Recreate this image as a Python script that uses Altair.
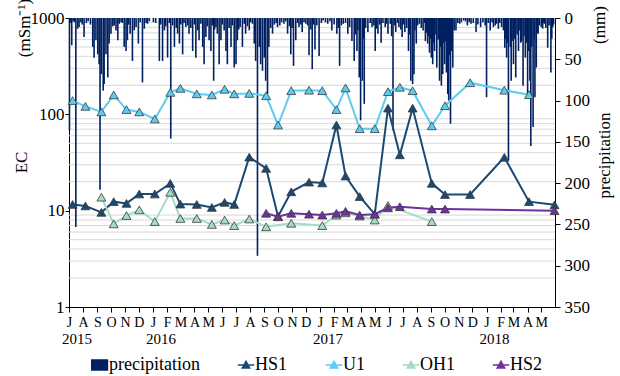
import altair as alt
import pandas as pd

FONT = "Liberation Serif"

# Sampling campaign dates and electrical conductivity readings (mS/m)
sample_dates = [
    "2015-07-09", "2015-08-06", "2015-09-10", "2015-10-07", "2015-11-04", "2015-12-02",
    "2016-01-05", "2016-02-08", "2016-03-01", "2016-04-06", "2016-05-09", "2016-06-06",
    "2016-06-27", "2016-07-30", "2016-09-05", "2016-10-01", "2016-10-30", "2016-12-08",
    "2017-01-06", "2017-02-06", "2017-02-26", "2017-03-29", "2017-05-01", "2017-05-30",
    "2017-06-25", "2017-07-23", "2017-09-03", "2017-10-02", "2017-11-26", "2018-02-09",
    "2018-04-04", "2018-05-30",
]
hs1 = [11.6, 11.2, 9.6, 12.4, 11.9, 14.9, 14.9, 19.2, 11.7, 11.6, 10.8, 12.2,
       11.6, 36, 27.5, 8.7, 15.7, 19.8, 19.4, 77.5, 22.9, 14.0, 9.2, 116,
       38, 116, 19.2, 14.7, 14.7, 35.8, 12.4, 11.5]
u1 = [139, 121, 106, 159, 112, 106, 89.5, 169, 186, 163, 159, 182,
      163, 165, 156, 77.5, 176, 178, 176, 112, 188, 71, 71, 172,
      191, 176, 76, 123, 213, 178, 160, None]
oh1 = [None, None, 13.8, 7.3, 8.9, 10.2, 7.7, 15.5, 8.3, 8.3, 7.2, 8.0,
       7.0, 8.2, 6.8, None, 7.4, None, 7.0, 9.0, 9.5, 8.8, 8.0, 11.3,
       None, None, 7.7, None, None, None, None, None]
hs2 = [None, None, None, None, None, None, None, None, None, None, None, None,
       None, None, 9.4, 8.65, 9.4, 9.2, 9.0, 9.4, 9.85, 9.0, 9.2, 10.7,
       11.0, None, 10.4, 10.4, None, None, None, 10.0]

series_names = ["HS1", "U1", "OH1", "HS2"]
series_colors = ["#1a4a74", "#5ccdf2", "#a3dcc7", "#7030a0"]

# Daily precipitation as (day counted from 2015-07-01, mm), rain days only
precip_obs = [
    (1, 136), (3, 6), (6, 33), (9, 4), (12, 5), (15, 253), (19, 13), (22, 11), (26, 5),
    (29, 8), (33, 23), (38, 6), (42, 4), (47, 8), (52, 35), (55, 48), (59, 27), (63, 44),
    (66, 56), (68, 208), (71, 68), (75, 88), (77, 80), (81, 44), (85, 72), (88, 31),
    (92, 19), (96, 10), (99, 9), (103, 15), (107, 27), (110, 7), (114, 5), (117, 6),
    (121, 35), (125, 40), (128, 27), (131, 8), (134, 19), (139, 52), (143, 15), (147, 11),
    (152, 31), (156, 5), (161, 78), (165, 13), (169, 6), (172, 7), (176, 4), (185, 5),
    (190, 6), (198, 52), (201, 8), (205, 52), (209, 15), (212, 10), (216, 48), (220, 6),
    (223, 146), (227, 9), (231, 35), (235, 12), (238, 19), (242, 31), (245, 8), (249, 44),
    (252, 6), (256, 11), (260, 9), (263, 19), (267, 12), (271, 40), (275, 8), (278, 48),
    (282, 15), (285, 27), (289, 7), (293, 35), (296, 56), (300, 23), (303, 10), (307, 27),
    (311, 40), (314, 9), (317, 76), (319, 14), (322, 11), (325, 19), (329, 56), (333, 27),
    (336, 8), (340, 15), (344, 40), (347, 56), (351, 12), (355, 35), (358, 9), (362, 60),
    (366, 56), (369, 27), (372, 14), (375, 11), (380, 35), (384, 7), (387, 19), (391, 10),
    (395, 15), (398, 5), (402, 7), (406, 31), (409, 52), (413, 288), (417, 35), (420, 56),
    (424, 64), (428, 48), (431, 76), (435, 92), (438, 35), (442, 12), (446, 19), (450, 8),
    (454, 6), (457, 11), (462, 9), (466, 5), (471, 7), (475, 4), (479, 19), (483, 10),
    (486, 44), (489, 12), (492, 58), (497, 27), (501, 6), (504, 11), (508, 8), (511, 17),
    (515, 5), (519, 7), (523, 9), (526, 45), (530, 14), (533, 62), (536, 8),
    (539, 38), (543, 9), (548, 46), (553, 6), (557, 3), (562, 5), (567, 7), (572, 4),
    (576, 15), (581, 8), (587, 19), (590, 12), (593, 58), (597, 9), (601, 7), (606, 6),
    (611, 19), (615, 11), (620, 28), (625, 52), (628, 20), (631, 40), (633, 15), (636, 72),
    (639, 124), (643, 76), (645, 25), (647, 104), (650, 12), (655, 17), (660, 6), (664, 11),
    (668, 9), (671, 40), (674, 13), (677, 19), (681, 8), (684, 30), (688, 6), (693, 11),
    (696, 7), (699, 19), (704, 7), (707, 22), (710, 136), (713, 9), (716, 17), (720, 6),
    (723, 11), (727, 14), (730, 23), (733, 8), (736, 17), (740, 12), (744, 40), (746, 20),
    (749, 76), (753, 80), (756, 68), (758, 15), (761, 31), (764, 9), (768, 7), (772, 12),
    (776, 15), (779, 6), (781, 28), (784, 18), (786, 31), (788, 22), (790, 42), (792, 25),
    (794, 48), (797, 56), (799, 30), (801, 40), (804, 20), (806, 60), (809, 26), (812, 76),
    (814, 35), (816, 82), (819, 68), (821, 30), (823, 56), (825, 28), (827, 66), (830, 92),
    (832, 100), (834, 45), (836, 128), (838, 40), (841, 60), (844, 15), (848, 15), (852, 6),
    (856, 7), (860, 5), (865, 3), (869, 4), (873, 9), (877, 5), (881, 7), (886, 6),
    (892, 17), (896, 8), (902, 11), (907, 5), (912, 9), (915, 96), (919, 6), (923, 15),
    (927, 5), (930, 11), (934, 9), (937, 7), (941, 13), (944, 6), (948, 11), (952, 15),
    (955, 36), (957, 25), (959, 48), (961, 30), (963, 172), (967, 35), (969, 76), (971, 28),
    (974, 56), (977, 25), (979, 72), (982, 20), (985, 40), (988, 15), (990, 30), (992, 28),
    (995, 82), (997, 22), (1000, 48), (1003, 30), (1005, 92), (1007, 40), (1010, 76),
    (1012, 155), (1014, 35), (1017, 132), (1019, 25), (1021, 96), (1024, 60), (1026, 18),
    (1028, 19), (1031, 9), (1035, 11), (1038, 13), (1040, 6), (1042, 7), (1045, 12),
    (1049, 36), (1052, 9), (1056, 66), (1058, 25), (1060, 11), (1062, 8),
]

minor_ec = [2, 3, 4, 5, 6, 7, 8, 9, 20, 30, 40, 50, 60, 70, 80, 90,
            200, 300, 400, 500, 600, 700, 800, 900]
major_ec = [1, 10, 100, 1000]
precip_ticks = [0, 50, 100, 150, 200, 250, 300, 350]
year_labels = ["2015", "2016", "2017", "2018"]
year_dates = ["2015-07-01", "2016-01-01", "2017-01-01", "2018-01-01"]

# ---- tables ----
ec = (pd.DataFrame({"date": sample_dates, "HS1": hs1, "U1": u1, "OH1": oh1, "HS2": hs2})
      .melt(id_vars="date", var_name="series", value_name="ec").dropna())
rain = pd.DataFrame(precip_obs, columns=["day", "mm"])
rain["date"] = (pd.Timestamp("2015-07-01")
                + pd.to_timedelta(rain["day"], unit="D")).dt.strftime("%Y-%m-%d")
rain["series"] = "precipitation"
rain = rain[["date", "mm", "series"]]
years = pd.DataFrame({"date": year_dates, "label": year_labels})
minor = pd.DataFrame({"v": minor_ec})

# ---- shared encodings ----
x_scale = alt.Scale(type="utc", nice=False, padding=0, domain=[
    alt.DateTime(year=2015, month=7, date=1, utc=True),
    alt.DateTime(year=2018, month=5, date=31, utc=True)])
x_axis = alt.Axis(title=None, tickCount={"interval": "month", "step": 1},
                  labelExpr="substring(utcFormat(datum.value, '%b'), 0, 1)",
                  labelFont=FONT, labelFontSize=14, labelColor="black",
                  labelOverlap=False, labelFlush=False, labelPadding=3,
                  domainColor="black", tickColor="black", tickSize=5, grid=False)
x_enc = alt.X("date:T", scale=x_scale, axis=x_axis)

ec_scale = alt.Scale(type="log", domain=[1, 1000], nice=False)

legend_names = ["precipitation"] + series_names
legend_colors = ["#002060"] + series_colors
# bar swatch for rainfall, line-with-triangle for the EC series
symbol_shape = ("datum.value === 'precipitation' ? 'M-1,-0.6H0.9V0.6H-1Z' : "
                "'M-1,0H1M-0.45,0.36L0,-0.44L0.45,0.36Z'")
legend = alt.Legend(
    title=None, orient="none", legendX=22, legendY=338, direction="horizontal",
    columns=5, columnPadding=34, symbolSize=272, symbolStrokeWidth=1.5,
    symbolType={"expr": symbol_shape},
    symbolFillColor={"expr": "scale('color', datum.value)"},
    symbolStrokeColor={"expr": "scale('color', datum.value)"},
    symbolOpacity=1,
    labelFont=FONT, labelFontSize=18, labelColor="black", labelOffset=0,
)
color_enc = alt.Color("series:N", scale=alt.Scale(domain=legend_names, range=legend_colors),
                      legend=legend)

# ---- layers ----
minor_grid = alt.Chart(minor).mark_rule(color="#d9d9d9", strokeWidth=1).encode(
    y=alt.Y("v:Q", scale=ec_scale, axis=None))

bars = alt.Chart(rain).mark_bar(size=1.6).encode(
    x=x_enc,
    y=alt.Y("mm:Q", scale=alt.Scale(domain=[0, 350], reverse=True, nice=False),
            axis=alt.Axis(orient="right", values=precip_ticks, title="precipitation",
                          titleAngle=270, titleX=49, titleY=137, titleAlign="center",
                          titleBaseline="middle", titleFont=FONT, titleFontSize=17,
                          titleFontWeight="normal", titleColor="black",
                          labelFont=FONT, labelFontSize=17, labelColor="black",
                          labelPadding=4, tickSize=5, tickColor="black",
                          domainColor="black", grid=False)),
    color=color_enc,
)

lines = alt.Chart(ec).mark_line(
    strokeWidth=2,
    point=alt.OverlayMarkDef(shape="triangle-up", size=80, filled=True, opacity=1,
                             stroke="#3a3a3a", strokeWidth=0.8),
).encode(
    x=x_enc,
    y=alt.Y("ec:Q", scale=ec_scale,
            axis=alt.Axis(orient="left", values=major_ec, format="d", title="EC",
                          titleAngle=270, titleX=-48, titleY=144, titleAlign="center",
                          titleBaseline="middle", titleFont=FONT, titleFontSize=17,
                          titleFontWeight="normal", titleColor="black",
                          labelFont=FONT, labelFontSize=17, labelColor="black",
                          labelPadding=1, tickSize=4, tickColor="black",
                          domainColor="black", gridColor="#8c8c8c", gridWidth=1.5)),
    color=color_enc,
    order=alt.Order("date:T"),
)

year_text = alt.Chart(years).mark_text(font=FONT, fontSize=15, color="black", dx=8,
                                       baseline="middle").encode(
    x=x_enc, y=alt.value(321), text="label:N")

unit_left = alt.Chart(pd.DataFrame({"t": ["(mSm\u207b\u00b9)"]})).mark_text(
    font=FONT, fontSize=17, color="black", angle=270, baseline="middle").encode(
    x=alt.value(-44), y=alt.value(10), text="t:N")
unit_right = alt.Chart(pd.DataFrame({"t": ["(mm)"]})).mark_text(
    font=FONT, fontSize=17, color="black", angle=270, baseline="middle").encode(
    x=alt.value(531), y=alt.value(7), text="t:N")

chart = (
    alt.layer(minor_grid, bars, lines, year_text, unit_left, unit_right)
    .resolve_scale(y="independent")
    .properties(width=486, height=289, autosize="none",
                padding={"left": 69, "top": 18, "right": 65, "bottom": 69})
    .configure(font=FONT)
    .configure_view(stroke=None)
)

chart.save("out.html", embed_options={"renderer": "svg", "actions": False})
